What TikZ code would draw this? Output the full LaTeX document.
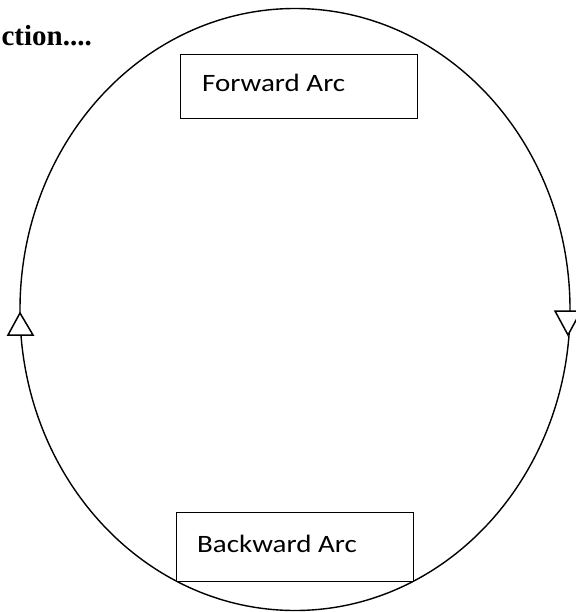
\documentclass[tikz,border=0pt]{standalone}
\usepackage{fontspec}
\setmainfont{Liberation Serif}
\newfontfamily\boxfont{Carlito}
\begin{document}
\begin{tikzpicture}[x=1pt,y=-1pt,
  arcbox/.style={draw=black, line width=1.4pt, fill=none, inner sep=0pt, anchor=north west},
  arclabel/.style={font=\boxfont\fontsize{25}{28}\selectfont, inner sep=0pt, anchor=base west},
  tri/.style={draw=black, line width=1.5pt, fill=white, line join=miter}]
\useasboundingbox (0,0) rectangle (575,612);
% ring
\draw[line width=1.4pt] (295,309.5) ellipse [x radius=275, y radius=301];
% title
\node[font=\bfseries\fontsize{29}{32}\selectfont, inner sep=0pt, anchor=base east] (title) at (92,46) {ction....};
% boxes
\node[arcbox, fill=white, minimum width=237pt, minimum height=64pt] (fwd) at (180,54) {};
\node[arclabel] (fwdtext) at (202,92) {\scalebox{1.16}[1]{Forward Arc}};
\node[arcbox, fill=white, minimum width=237pt, minimum height=69pt] (bwd) at (176,512) {};
\node[arclabel] (bwdtext) at (197,552) {\scalebox{1.16}[1]{Backward Arc}};
% arrowheads
\draw[tri] (20,313) -- (8,335) -- (33,335) -- cycle;
\draw[tri] (555,311) -- (581,311) -- (568,335) -- cycle;
\end{tikzpicture}
\end{document}
